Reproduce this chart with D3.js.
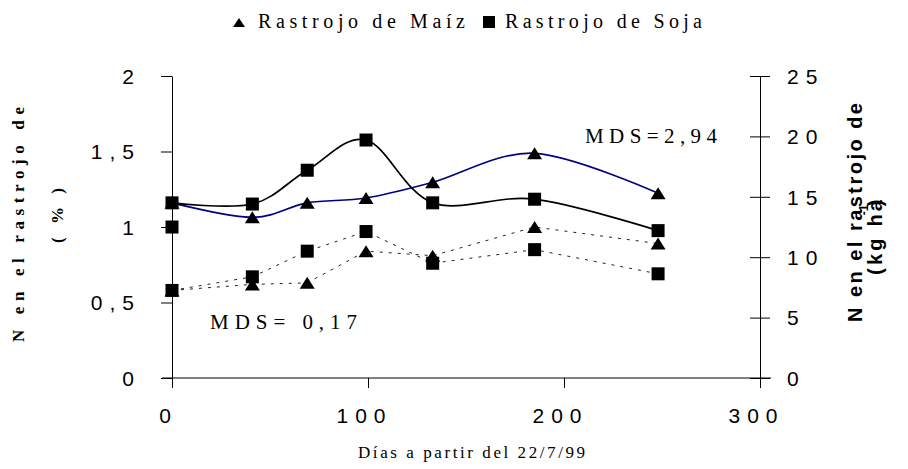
<!DOCTYPE html>
<html>
<head>
<meta charset="utf-8">
<script src="https://cdn.jsdelivr.net/npm/d3@7"></script>
<style>
  body { margin: 0; background: #fff; }
  svg { display: block; }
</style>
</head>
<body>
<div id="chart"></div>
<script>
const width = 908;
const height = 469;

// days after 22/7/99
const days = [0, 41, 69, 99, 133, 185, 248];
// N in stubble, kg/ha (right axis, solid lines)
const maizKg = [14.5, 13.3, 14.5, 14.9, 16.2, 18.6, 15.3];
const sojaKg = [14.5, 14.4, 17.2, 19.7, 14.5, 14.8, 12.2];
// N in stubble, % (left axis, dotted lines)
const maizPct = [0.58, 0.62, 0.63, 0.84, 0.81, 1.0, 0.89];
const sojaPct = [0.58, 0.67, 0.84, 0.97, 0.76, 0.85, 0.69];
// lone square at day 0
const sojaPctExtra = [1.0];

const xTicks = [0, 100, 200, 300];
const leftTicks = [0, 0.5, 1, 1.5, 2];
const rightTicks = [0, 5, 10, 15, 20, 25];
const legendNames = ["Rastrojo de Maíz", "Rastrojo de Soja"];

const colors = {
  maiz: "#000080",
  soja: "#000",
  dotted: "#222",
  axis: "#000"
};

const sans = "'Liberation Sans', Arial, sans-serif";
const serif = "'Liberation Serif', 'Times New Roman', serif";

const svg = d3.select("#chart")
  .append("svg")
  .attr("width", width)
  .attr("height", height);

const x = d3.scaleLinear().domain([0, 300]).range([172, 760]);
const yL = d3.scaleLinear().domain([0, 2]).range([378, 76]);
const yR = d3.scaleLinear().domain([0, 25]).range([378, 76]);

const comma = d => String(d).replace(".", ",");

// axes
const gx = svg.append("g")
  .attr("transform", "translate(0,378)")
  .call(d3.axisBottom(x).tickValues(xTicks).tickSize(10).tickSizeOuter(0));
gx.select(".domain").attr("d", "M162,0H771");
gx.selectAll("text").attr("y", 30).attr("x", -4);

const gl = svg.append("g")
  .attr("transform", "translate(172,0)")
  .call(d3.axisLeft(yL).tickValues(leftTicks).tickSize(11).tickSizeOuter(0).tickFormat(comma));
gl.selectAll("text").attr("x", -31).attr("dy", "0.35em");

const gr = svg.append("g")
  .attr("transform", "translate(760,0)")
  .call(d3.axisRight(yR).tickValues(rightTicks).tickSize(10).tickSizeOuter(0));
gr.selectAll(".tick line").attr("x1", -10);
gr.selectAll("text").attr("x", 27).attr("dy", "0.35em");

svg.selectAll(".tick text")
  .attr("font-family", sans)
  .attr("font-size", 21)
  .attr("letter-spacing", 7)
  .attr("fill", "#000");
svg.selectAll(".domain, .tick line").attr("stroke", colors.axis);

// lines
const smooth = (ys, yScale) => d3.line()
  .x((d, i) => x(days[i]))
  .y(d => yScale(d))
  .curve(d3.curveCardinal)(ys);
const straight = (ys, yScale) => d3.line()
  .x((d, i) => x(days[i]))
  .y(d => yScale(d))(ys);

svg.append("path").attr("d", straight(maizPct, yL))
  .attr("fill", "none").attr("stroke", colors.dotted)
  .attr("stroke-width", 1).attr("stroke-dasharray", "3,6");
svg.append("path").attr("d", straight(sojaPct, yL))
  .attr("fill", "none").attr("stroke", colors.dotted)
  .attr("stroke-width", 1).attr("stroke-dasharray", "3,6");
svg.append("path").attr("d", smooth(maizKg, yR))
  .attr("fill", "none").attr("stroke", colors.maiz).attr("stroke-width", 1.7);
svg.append("path").attr("d", smooth(sojaKg, yR))
  .attr("fill", "none").attr("stroke", colors.soja).attr("stroke-width", 1.7);

// markers
const tri = (w, h) => `M0,${-h / 2}L${w / 2},${h / 2}L${-w / 2},${h / 2}Z`;

function triangles(ys, yScale) {
  svg.append("g").selectAll("path")
    .data(ys)
    .enter()
    .append("path")
    .attr("d", tri(15, 12))
    .attr("transform", (d, i) => `translate(${x(days[i])},${yScale(d)})`)
    .attr("fill", "#000");
}

function squares(ys, yScale) {
  svg.append("g").selectAll("rect")
    .data(ys)
    .enter()
    .append("rect")
    .attr("x", (d, i) => x(days[i]) - 6.5)
    .attr("y", d => yScale(d) - 6.5)
    .attr("width", 13)
    .attr("height", 13)
    .attr("fill", "#000");
}

triangles(maizPct, yL);
triangles(maizKg, yR);
squares(sojaPct, yL);
squares(sojaKg, yR);
squares(sojaPctExtra, yL);

// legend
svg.append("path").attr("d", tri(12, 9)).attr("transform", "translate(239,22.5)").attr("fill", "#000");
svg.append("rect").attr("x", 483).attr("y", 16).attr("width", 12).attr("height", 12).attr("fill", "#000");
svg.append("text").attr("x", 258).attr("y", 28).text(legendNames[0])
  .attr("textLength", 207).attr("lengthAdjust", "spacing");
svg.append("text").attr("x", 505).attr("y", 28).text(legendNames[1])
  .attr("textLength", 197).attr("lengthAdjust", "spacing");

// MDS labels
svg.append("text").attr("x", 585).attr("y", 143).text("MDS=2,94")
  .attr("font-size", 21)
  .attr("textLength", 132).attr("lengthAdjust", "spacing");
svg.append("text").attr("x", 210).attr("y", 329).text("MDS= 0,17")
  .attr("font-size", 21)
  .attr("textLength", 147).attr("lengthAdjust", "spacing");

// x title
svg.append("text").attr("x", 358).attr("y", 458).text("Días a partir del 22/7/99")
  .attr("font-size", 17)
  .attr("textLength", 227).attr("lengthAdjust", "spacing");

svg.selectAll("svg > text")
  .attr("font-family", serif)
  .attr("fill", "#000");
svg.selectAll("svg > text:not([font-size])").attr("font-size", 20);

// left y title (two lines, rotated)
svg.append("text")
  .attr("transform", "translate(24,224.5) rotate(-90)")
  .attr("text-anchor", "middle")
  .attr("font-family", serif).attr("font-weight", "bold").attr("font-size", 17)
  .attr("textLength", 235).attr("lengthAdjust", "spacing")
  .text("N en el rastrojo de");
svg.append("text")
  .attr("transform", "translate(63,215.5) rotate(-90)")
  .attr("text-anchor", "middle")
  .attr("font-family", serif).attr("font-weight", "bold").attr("font-size", 17)
  .attr("textLength", 55).attr("lengthAdjust", "spacing")
  .text("(%)");

// right y title
svg.append("text")
  .attr("transform", "translate(862,212.5) rotate(-90)")
  .attr("text-anchor", "middle")
  .attr("font-family", sans).attr("font-weight", "bold").attr("font-size", 20)
  .attr("textLength", 219).attr("lengthAdjust", "spacing")
  .text("N en el rastrojo de");
svg.append("text")
  .attr("transform", "translate(882,237.5) rotate(-90)")
  .attr("text-anchor", "middle")
  .attr("font-family", sans).attr("font-weight", "bold").attr("font-size", 20)
  .attr("textLength", 75).attr("lengthAdjust", "spacing")
  .text("(kg ha");
svg.append("text")
  .attr("transform", "translate(882,203) rotate(-90)")
  .attr("text-anchor", "middle")
  .attr("font-family", sans).attr("font-weight", "bold").attr("font-size", 20)
  .text(")");
svg.append("text")
  .attr("transform", "translate(868,210) rotate(-90)")
  .attr("text-anchor", "middle")
  .attr("font-family", sans).attr("font-weight", "bold").attr("font-size", 12)
  .text("-1");
</script>
</body>
</html>
